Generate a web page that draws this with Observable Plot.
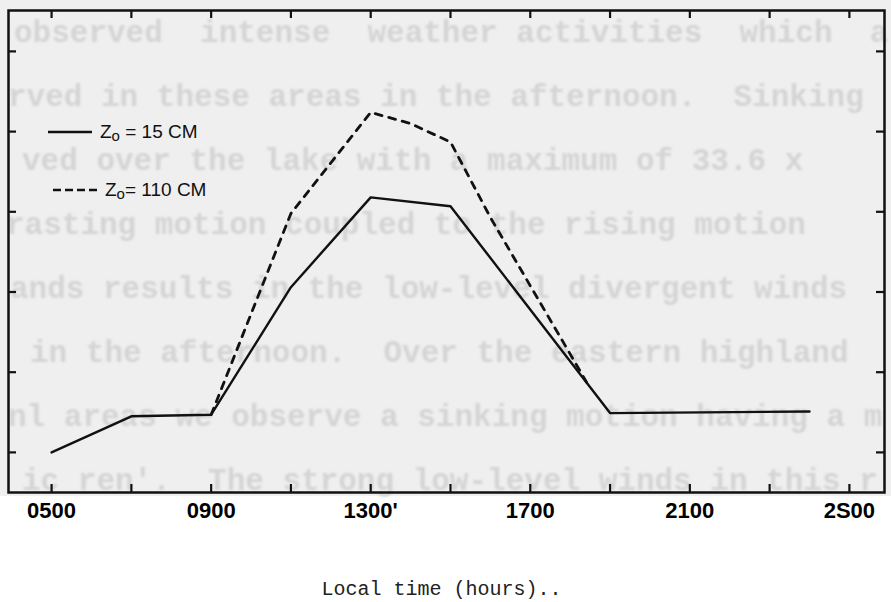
<!DOCTYPE html>
<html><head><meta charset="utf-8">
<script src="https://cdn.jsdelivr.net/npm/d3@7"></script>
<script src="https://cdn.jsdelivr.net/npm/@observablehq/plot@0.6"></script>
<style>
html,body{margin:0;padding:0;background:#fff;}
#wrap{position:relative;width:891px;height:602px;overflow:hidden;}
#paper{position:absolute;left:0;top:0;width:891px;height:496px;background:#efefef;}
#ghost{position:absolute;left:0;top:17px;width:891px;height:482px;overflow:hidden;font:bold 31px "Liberation Mono",monospace;color:#d4d4d4;white-space:pre;filter:blur(1px);}
#ghost div{height:34px;line-height:34px;margin-bottom:30px;}
#chart{position:absolute;left:0;top:0;}
#legend{position:absolute;left:0;top:0;font:19px "Liberation Sans Narrow","Liberation Sans",sans-serif;color:#111;}
#legend .row{position:absolute;white-space:nowrap;display:flex;align-items:center;height:24px;}
#legend sub{font-size:15px;position:relative;top:3px;vertical-align:baseline;}
#legend svg{margin-right:6px;}
</style>
</head><body>
<div id="wrap">
  <div id="paper"></div>
  <div id="ghost"></div>
  <div id="chart"></div>
  <div id="legend"></div>
</div>
<script>
// ---- data ----
const solidHours  = [5, 7, 9, 11, 13, 15, 19, 24];
const solidValues = [0, 0.45, 0.47, 2.06, 3.18, 3.07, 0.49, 0.51];
const dashedHours  = [9, 11, 13, 14, 15, 16, 18.5];
const dashedValues = [0.47, 2.98, 4.24, 4.10, 3.87, 2.93, 0.80];
const tickHours  = [5, 7, 9, 11, 13, 15, 17, 19, 21, 23, 25];
const labelHours = [5, 9, 13, 17, 21, 25];
const tickLabels = ["0500", "0900", "1300'", "1700", "2100", "2S00"];
const yTicks = [0, 1, 2, 3, 4, 5];
const legendLabels = ["= 15 CM", "= 110 CM"];
const axisTitle = "Local time (hours)..";
const ghostLines = [
  "observed  intense  weather activities  which  a",
  "rved in these areas in the afternoon.  Sinking",
  "ved over the lake with a maximum of 33.6 x",
  "rasting motion coupled to the rising motion",
  "ands results in the low-level divergent winds",
  "in the afternoon.  Over the eastern highland",
  "nl areas we observe a sinking motion having a m",
  "ic ren'.  The strong low-level winds in this r"
];
const ghostIndent = [14, 8, 22, 6, 10, 30, 8, 22];

const solid = solidHours.map((h, i) => ({h, v: solidValues[i]}));
const dashed = dashedHours.map((h, i) => ({h, v: dashedValues[i]}));

const W = 891, H = 602, mL = 8, mR = 7, mT = 10, mB = 110;
const fw = W - mL - mR, fh = H - mT - mB, tk = 8;

const chart = Plot.plot({
  width: W, height: H,
  marginLeft: mL, marginRight: mR, marginTop: mT, marginBottom: mB,
  x: {domain: [3.92, 25.88], axis: null},
  y: {domain: [-0.5, 5.51], axis: null},
  style: {background: "transparent", overflow: "visible"},
  marks: [
    Plot.frame({stroke: "#111", strokeWidth: 2.5}),
    Plot.tickX(tickHours, {x: d => d, insetTop: fh - tk, stroke: "#111", strokeWidth: 2.2}),
    Plot.tickX(tickHours, {x: d => d, insetBottom: fh - tk, stroke: "#111", strokeWidth: 2.2}),
    Plot.tickY(yTicks, {y: d => d, insetRight: fw - tk, stroke: "#111", strokeWidth: 2.2}),
    Plot.tickY(yTicks, {y: d => d, insetLeft: fw - tk, stroke: "#111", strokeWidth: 2.2}),
    Plot.line(solid, {x: "h", y: "v", stroke: "#111", strokeWidth: 2.4}),
    Plot.line(dashed, {x: "h", y: "v", stroke: "#111", strokeWidth: 2.8, strokeDasharray: "7,7"}),
    Plot.text(labelHours, {x: d => d, text: (d, i) => tickLabels[i], frameAnchor: "bottom", lineAnchor: "top", dy: 10,
      fontSize: 22, fontWeight: "bold", fontFamily: "Liberation Sans", fill: "#000"}),
    Plot.text([axisTitle], {text: d => d, frameAnchor: "bottom", lineAnchor: "top", dy: 88, dx: -5,
      fontSize: 20, fontFamily: "Liberation Mono", fill: "#222"})
  ]
});
document.getElementById("chart").appendChild(chart);

// ghost bleed-through text
const ghost = document.getElementById("ghost");
ghostLines.forEach((t, i) => {
  const d = document.createElement("div");
  d.textContent = t;
  d.style.marginLeft = ghostIndent[i] + "px";
  ghost.appendChild(d);
});

// legend
const legend = document.getElementById("legend");
const rows = [
  {left: 48, top: 120, dash: null},
  {left: 53, top: 178, dash: "8,4"}
];
rows.forEach((r, i) => {
  const row = document.createElement("div");
  row.className = "row";
  row.style.left = r.left + "px";
  row.style.top = r.top + "px";
  row.innerHTML = `<svg width="46" height="10"><line x1="0" x2="44" y1="5" y2="5" stroke="#111" stroke-width="2.4"${r.dash ? ` stroke-dasharray="${r.dash}"` : ""}/></svg><span>Z<sub>o</sub>${i === 0 ? " " : ""}${legendLabels[i]}</span>`;
  legend.appendChild(row);
});
</script>
</body></html>
